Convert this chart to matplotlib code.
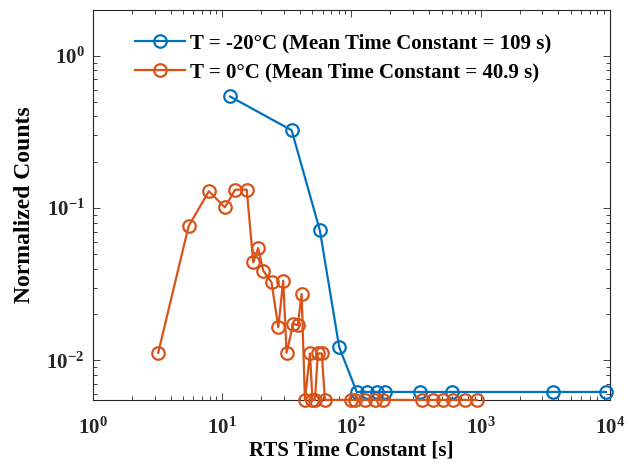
import matplotlib
matplotlib.use("Agg")
import math
import matplotlib.pyplot as plt
from matplotlib.ticker import LogLocator, FuncFormatter, NullFormatter

plt.rcParams['font.family'] = ['Liberation Serif', 'DejaVu Serif']
plt.rcParams['font.weight'] = 'bold'
plt.rcParams['mathtext.fontset'] = 'custom'
plt.rcParams['mathtext.rm'] = 'Liberation Serif:bold'
plt.rcParams['mathtext.bf'] = 'Liberation Serif:bold'
plt.rcParams['mathtext.it'] = 'Liberation Serif:bold'

# Data
tau_m20 = [11.5, 34.5, 57, 80.5, 110, 131, 157, 182, 339, 596, 3640, 9300]
cnt_m20 = [0.54, 0.324, 0.0714, 0.0122, 0.0062, 0.0062, 0.0062, 0.0062,
           0.0062, 0.0062, 0.0062, 0.0062]

tau_0 = [3.2, 5.5, 7.9, 10.5, 12.6, 15.5, 17.4, 19.0, 20.8, 24.1, 27.2, 29.7,
         31.5, 35.5, 38.5, 41.2, 43.7, 47.8, 50, 52.2, 55, 59, 62.4, 100, 106,
         127, 152, 175, 349, 430, 513, 613, 755, 930]
cnt_0 = [0.0112, 0.076, 0.129, 0.101, 0.132, 0.132, 0.044, 0.0546, 0.0388,
         0.0325, 0.0165, 0.0334, 0.0112, 0.0174, 0.0170, 0.0273, 0.0055,
         0.0111, 0.0055, 0.0055, 0.0111, 0.0111, 0.0055, 0.0055, 0.0055,
         0.0055, 0.0055, 0.0055, 0.0055, 0.0055, 0.0055, 0.0055, 0.0055,
         0.0055]

labels = ['T = -20°C (Mean Time Constant = 109 s)',
          'T = 0°C (Mean Time Constant = 40.9 s)']
colors = ['#0072BD', '#D95319']

fig = plt.figure(figsize=(6.32, 4.71), dpi=100)
ax = fig.add_axes([0.147, 0.151, 0.818, 0.828])

ax.plot(tau_m20, cnt_m20, '-o', color=colors[0], lw=1.6, ms=9, mfc='none',
        mew=1.6, label=labels[0], clip_on=False, zorder=3)
ax.plot(tau_0, cnt_0, '-o', color=colors[1], lw=1.6, ms=9, mfc='none',
        mew=1.6, label=labels[1], clip_on=False, zorder=3)

ax.set_xscale('log')
ax.set_yscale('log')
ax.set_xlim(1, 1e4)
ax.set_ylim(0.0055, 2.0)

def fmt(v, pos):
    e = int(round(math.log10(v)))
    return r'$\mathbf{10^{%d}}$' % e

ax.xaxis.set_major_locator(LogLocator(base=10, numticks=10))
ax.yaxis.set_major_locator(LogLocator(base=10, numticks=10))
ax.xaxis.set_minor_locator(LogLocator(base=10, subs=range(2, 10), numticks=20))
ax.yaxis.set_minor_locator(LogLocator(base=10, subs=range(2, 10), numticks=20))
ax.xaxis.set_major_formatter(FuncFormatter(fmt))
ax.yaxis.set_major_formatter(FuncFormatter(fmt))
ax.xaxis.set_minor_formatter(NullFormatter())
ax.yaxis.set_minor_formatter(NullFormatter())

ax.tick_params(which='both', direction='in', top=True, right=True,
               labelsize=15, colors='#262626')
ax.tick_params(which='major', length=5, width=0.6)
ax.tick_params(which='minor', length=3, width=0.6)
ax.tick_params(axis='x', pad=13)
ax.tick_params(axis='y', pad=6)
for s in ax.spines.values():
    s.set_linewidth(0.8)
    s.set_color('#262626')

ax.set_xlabel('RTS Time Constant [s]', fontsize=15, fontweight='bold', labelpad=1)
ax.set_ylabel('Normalized Counts', fontsize=17, fontweight='bold', labelpad=8)

leg = ax.legend(loc='upper left', bbox_to_anchor=(0.081, 0.94), frameon=False,
                fontsize=15, handlelength=2.4, handletextpad=0.25,
                labelspacing=0.45, borderaxespad=0.0, borderpad=0.0)
for t in leg.get_texts():
    t.set_fontweight('bold')

fig.savefig('out.png', dpi=100)
